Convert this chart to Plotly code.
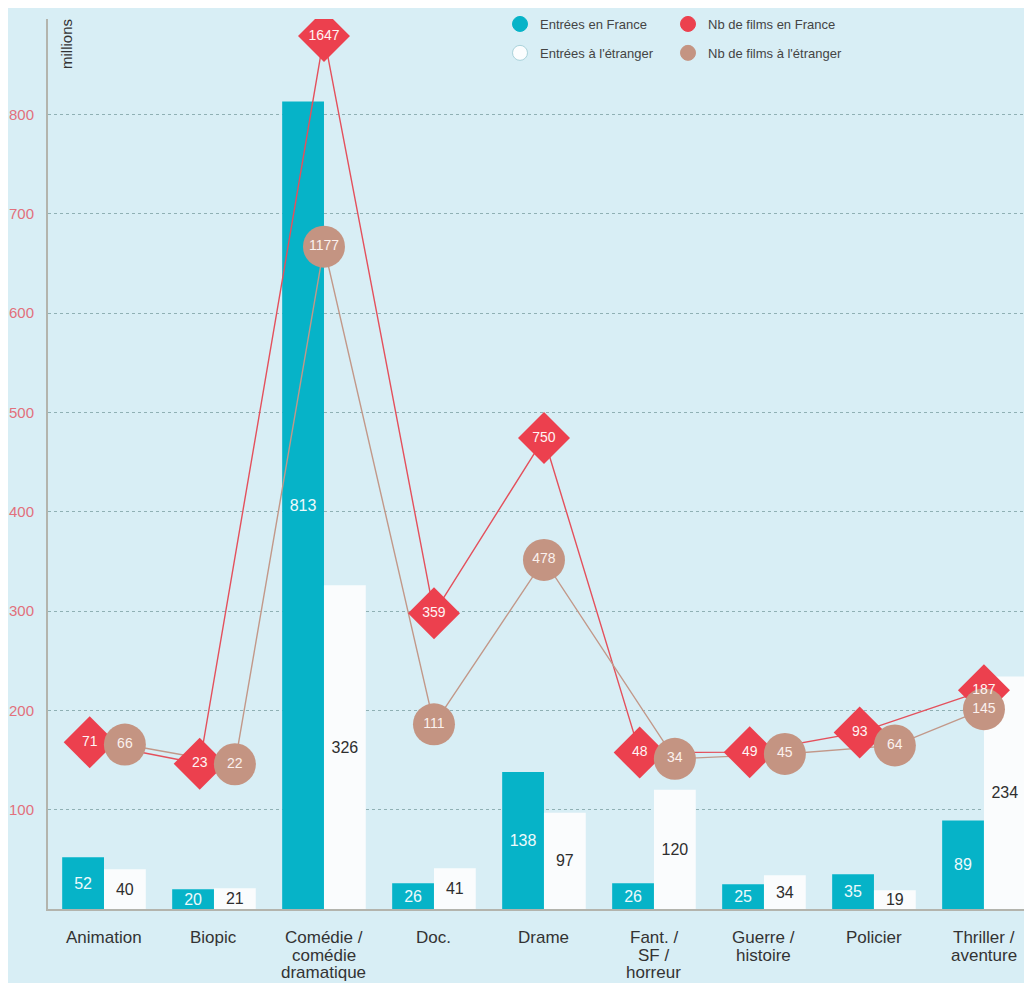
import plotly.graph_objects as go

# ---------------- data ----------------
categories = ["Animation", "Biopic", "Comédie / comédie dramatique", "Doc.", "Drame",
              "Fant. / SF / horreur", "Guerre / histoire", "Policier", "Thriller / aventure"]
tick_labels = ["Animation", "Biopic", "Comédie /\ncomédie\ndramatique", "Doc.", "Drame",
               "Fant. /\nSF /\nhorreur", "Guerre /\nhistoire", "Policier", "Thriller /\naventure"]
entrees_france = [52, 20, 813, 26, 138, 26, 25, 35, 89]        # millions
entrees_etranger = [40, 21, 326, 41, 97, 120, 34, 19, 234]     # millions
films_france = [71, 23, 1647, 359, 750, 48, 49, 93, 187]
films_etranger = [66, 22, 1177, 111, 478, 34, 45, 64, 145]
y_ticks = [100, 200, 300, 400, 500, 600, 700, 800]

# ---------------- style ----------------
FONT = "Liberation Sans, Arial, Helvetica, sans-serif"
TEAL = "#06b3c8"
WHITE_BAR = "#fafcfd"
RED = "#ec404e"
BROWN = "#c49482"
RED_LINE = "#e4505c"
BROWN_LINE = "#c29889"
PANEL = "#d8eef5"

W, H = 1016, 975
ML, MR, MT, MB = 40, 0, 11, 74
plot_w = W - ML - MR
plot_h = H - MT - MB
Y_RANGE = [0, 896]
Y2_RANGE = [-301, 1685]
X_RANGE = [-0.509, 8.364]

idx = list(range(len(categories)))

# horizontal nudge of the two markers when they would sit on top of each other
px_per_film = plot_h / (Y2_RANGE[1] - Y2_RANGE[0])
xf, xe = [], []
for i, (f, e) in enumerate(zip(films_france, films_etranger)):
    if abs(f - e) * px_per_film < 15:
        xf.append(i - 0.13)
        xe.append(i + 0.19)
    else:
        xf.append(i)
        xe.append(i)

fig = go.Figure()

fig.add_trace(go.Bar(
    x=idx, y=entrees_france, name="Entrées en France", marker=dict(color=TEAL, line=dict(width=0)),
    text=[str(v) for v in entrees_france], textposition="inside", insidetextanchor="middle",
    textangle=0, constraintext="none", textfont=dict(family=FONT, size=16, color="#eefafc"),
    showlegend=False, hoverinfo="skip"))
fig.add_trace(go.Bar(
    x=idx, y=entrees_etranger, name="Entrées à l'étranger", marker=dict(color=WHITE_BAR, line=dict(width=0)),
    text=[str(v) for v in entrees_etranger], textposition="inside", insidetextanchor="middle",
    textangle=0, constraintext="none", textfont=dict(family=FONT, size=16, color="#2e2e2e"),
    showlegend=False, hoverinfo="skip"))

# lines
fig.add_trace(go.Scatter(x=xf, y=films_france, yaxis="y2", mode="lines",
                         line=dict(color=RED_LINE, width=1.4), showlegend=False, hoverinfo="skip"))
fig.add_trace(go.Scatter(x=xe, y=films_etranger, yaxis="y2", mode="lines",
                         line=dict(color=BROWN_LINE, width=1.4), showlegend=False, hoverinfo="skip"))
# markers
fig.add_trace(go.Scatter(x=xf, y=films_france, yaxis="y2", mode="markers",
                         marker=dict(symbol="diamond", size=40, color=RED, line=dict(width=0)),
                         showlegend=False, hoverinfo="skip"))
fig.add_trace(go.Scatter(x=xe, y=films_etranger, yaxis="y2", mode="markers",
                         marker=dict(symbol="circle", size=42, color=BROWN, line=dict(width=0)),
                         showlegend=False, hoverinfo="skip"))
# marker labels on top
fig.add_trace(go.Scatter(x=xf, y=films_france, yaxis="y2", mode="text",
                         text=[str(v) for v in films_france], textposition="middle center",
                         textfont=dict(family=FONT, size=14, color="#fff4f4"),
                         showlegend=False, hoverinfo="skip"))
fig.add_trace(go.Scatter(x=xe, y=films_etranger, yaxis="y2", mode="text",
                         text=[str(v) for v in films_etranger], textposition="middle center",
                         textfont=dict(family=FONT, size=14, color="#fbf1ee"),
                         showlegend=False, hoverinfo="skip"))

# legend proxies
legend_items = [
    ("Entrées en France", TEAL, TEAL, "legend", "g1"),
    ("Entrées à l'étranger", "#fbfdfe", "#a9d2da", "legend", "g2"),
    ("Nb de films en France", RED, RED, "legend2", "g3"),
    ("Nb de films à l'étranger", BROWN, BROWN, "legend2", "g4"),
]
for name, fill, edge, leg, grp in legend_items:
    fig.add_trace(go.Scatter(x=[None], y=[None], mode="markers", name=name, legend=leg,
                             legendgroup=grp,
                             marker=dict(symbol="circle", size=15, color=fill, line=dict(color=edge, width=1)),
                             hoverinfo="skip"))

# x labels as stacked text lines (tight line spacing)
annotations = []
for i, lab in enumerate(tick_labels):
    for j, line in enumerate(lab.split("\n")):
        annotations.append(dict(x=i, xref="x", y=0, yref="paper", yanchor="middle",
                                yshift=-28.5 - 17.5 * j, text=line, showarrow=False,
                                font=dict(family=FONT, size=17, color="#333333")))
annotations.append(dict(x=19 / plot_w, xref="paper", y=1 - 25 / plot_h, yref="paper",
                        xanchor="center", yanchor="middle",
                        text="millions", textangle=-90, showarrow=False,
                        font=dict(family=FONT, size=15, color="#333333")))

legend_style = dict(font=dict(family=FONT, size=13, color="#444444"), bgcolor="rgba(0,0,0,0)",
                    borderwidth=0, orientation="v", yanchor="top", xanchor="left",
                    traceorder="grouped", tracegroupgap=9, itemclick=False, itemdoubleclick=False)

fig.update_layout(
    width=W, height=H,
    margin=dict(l=ML, r=MR, t=MT, b=MB, pad=0),
    paper_bgcolor=PANEL, plot_bgcolor="rgba(0,0,0,0)",
    barmode="group", bargap=0.24, bargroupgap=0,
    font=dict(family=FONT),
    xaxis=dict(range=X_RANGE, showgrid=False, zeroline=False, showticklabels=False, ticks="",
               showline=True, linecolor="#b3b4ad", linewidth=2, fixedrange=True),
    yaxis=dict(range=Y_RANGE, tickvals=y_ticks, showgrid=True, gridcolor="#8fb0b4", gridwidth=1,
               griddash="dot", zeroline=False, showline=True, linecolor="#b3b4ad", linewidth=2,
               ticks="", ticklabelstandoff=9,
               tickfont=dict(family=FONT, size=15, color="#e2707c"), fixedrange=True),
    yaxis2=dict(range=Y2_RANGE, overlaying="y", side="right", visible=False, fixedrange=True),
    legend=dict(x=452 / plot_w, y=1 + 10 / plot_h, **legend_style),
    legend2=dict(x=620 / plot_w, y=1 + 10 / plot_h, **legend_style),
    annotations=annotations,
)

# the panel runs to the window's bottom edge, as in the reference: no scrollbars
fig.write_html("out.html", post_script="document.body.style.overflow='hidden';")
